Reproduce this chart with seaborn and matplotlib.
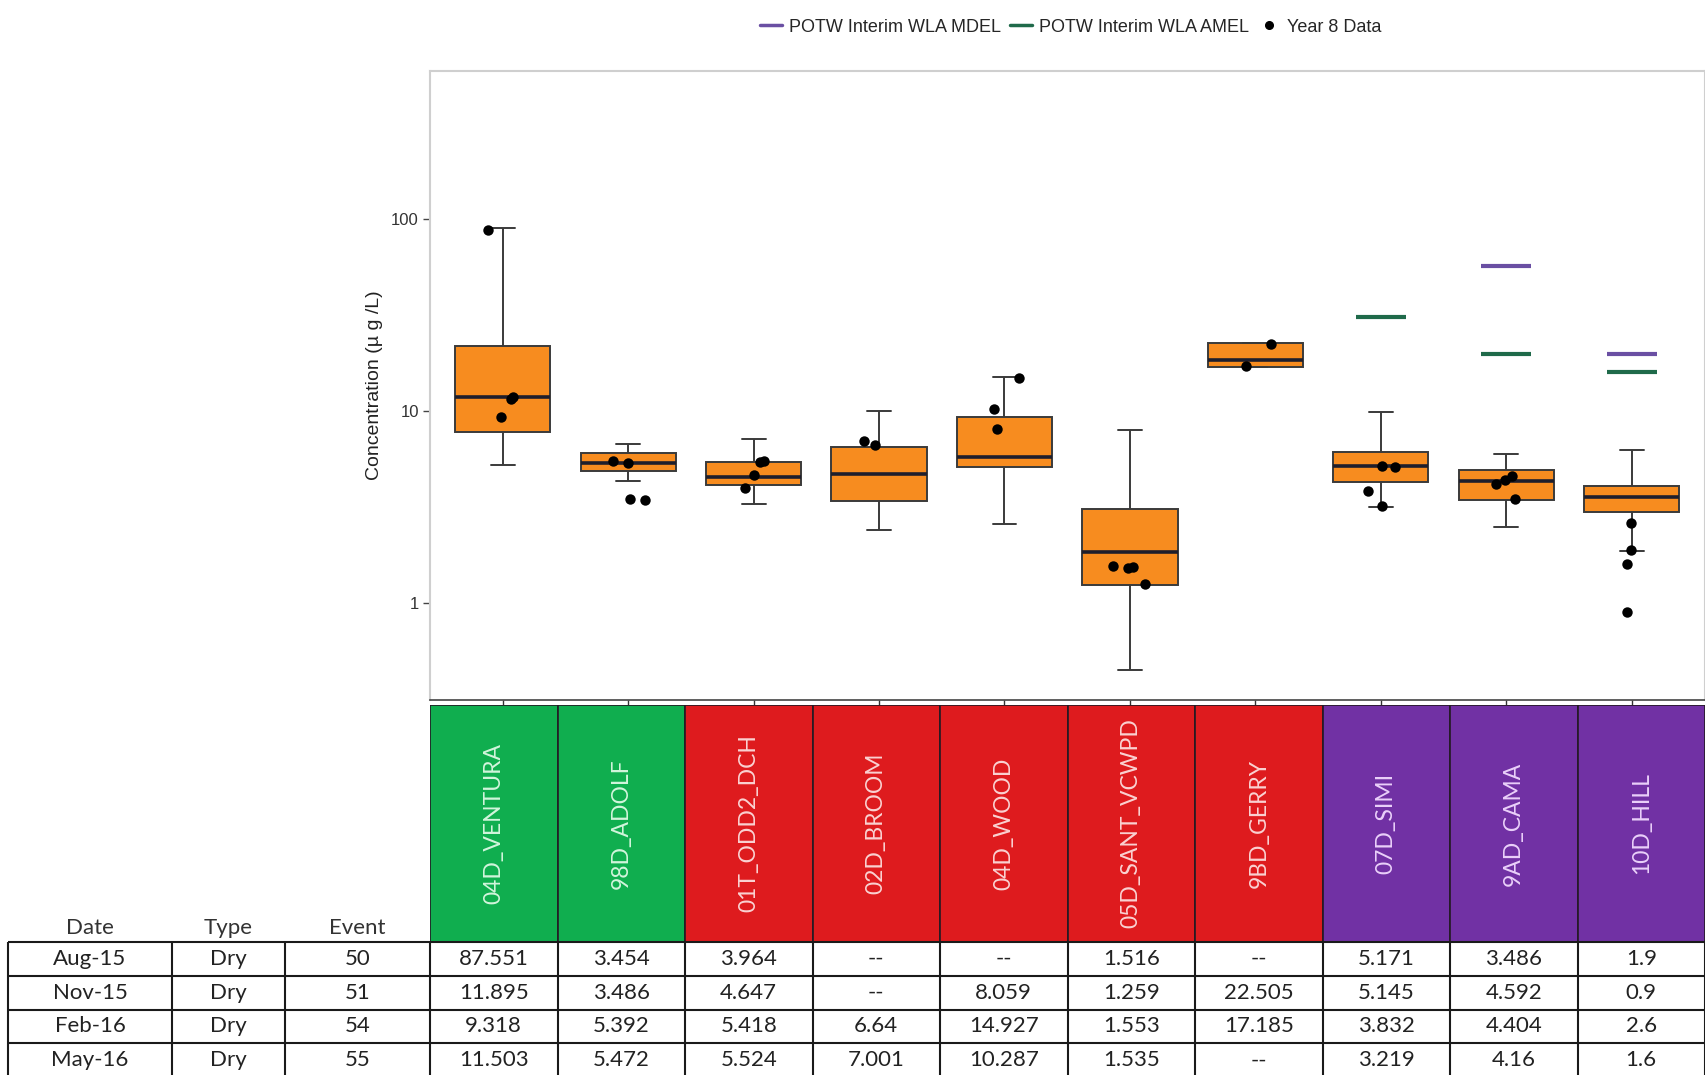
import numpy as np
import pandas as pd
import matplotlib
matplotlib.use("Agg")
import matplotlib.pyplot as plt
from matplotlib.lines import Line2D
from matplotlib.ticker import NullLocator
import seaborn as sns

# Sites in plotting order and the group each one belongs to
sites = ["04D_VENTURA", "98D_ADOLF", "01T_ODD2_DCH", "02D_BROOM", "04D_WOOD",
         "05D_SANT_VCWPD", "9BD_GERRY", "07D_SIMI", "9AD_CAMA", "10D_HILL"]
site_group = ["green", "green", "red", "red", "red", "red", "red",
              "purple", "purple", "purple"]

# Historical box summaries (ug/L)
box_lo = [5.25, 4.34, 3.29, 2.39, 2.59, 0.45, 16.9, 3.18, 2.49, 1.88]
box_q1 = [7.8, 4.89, 4.13, 3.42, 5.11, 1.24, 16.9, 4.27, 3.45, 3.0]
box_med = [11.8, 5.40, 4.53, 4.70, 5.80, 1.84, 18.5, 5.19, 4.33, 3.59]
box_q3 = [21.9, 6.04, 5.44, 6.54, 9.37, 3.09, 22.6, 6.09, 4.95, 4.08]
box_hi = [90.0, 6.76, 7.2, 10.07, 15.0, 8.0, 22.6, 9.88, 5.99, 6.24]

# POTW interim WLA limits (only the POTW sites have them)
nan = np.nan
wla_mdel = [nan, nan, nan, nan, nan, nan, nan, nan, 57.2, 19.9]
wla_amel = [nan, nan, nan, nan, nan, nan, nan, 30.9, 19.9, 15.9]

# Year 8 monitoring events (None = not sampled)
dates = ["Aug-15", "Nov-15", "Feb-16", "May-16"]
types = ["Dry", "Dry", "Dry", "Dry"]
events = [50, 51, 54, 55]
row_aug15 = [87.551, 3.454, 3.964, None, None, 1.516, None, 5.171, 3.486, 1.9]
row_nov15 = [11.895, 3.486, 4.647, None, 8.059, 1.259, 22.505, 5.145, 4.592, 0.9]
row_feb16 = [9.318, 5.392, 5.418, 6.64, 14.927, 1.553, 17.185, 3.832, 4.404, 2.6]
row_may16 = [11.503, 5.472, 5.524, 7.001, 10.287, 1.535, None, 3.219, 4.16, 1.6]
year8_rows = [row_aug15, row_nov15, row_feb16, row_may16]

group_fill = {"green": "#10ae4f", "red": "#de1b1e", "purple": "#7131a4"}
group_text = {"green": "#d2f5dc", "red": "#fad2d2", "purple": "#ead0fa"}
mdel_color = "#6a4fa3"
amel_color = "#1f6a4a"

W, H = 1705, 1075

sns.set_style("white")
plt.rcParams["font.family"] = ["Liberation Sans", "DejaVu Sans"]

fig = plt.figure(figsize=(W / 100, H / 100), dpi=100)

# ---------- main box plot ----------
ax = fig.add_axes([430 / W, 1 - 700 / H, 1275 / W, (700 - 71) / H])

box_df = pd.DataFrame({
    "site": np.repeat(sites, 5),
    "value": np.column_stack([box_lo, box_q1, box_med, box_q3, box_hi]).ravel(),
})
pts = []
for row in year8_rows:
    for s, v in zip(sites, row):
        if v is not None:
            pts.append((s, v))
pts_df = pd.DataFrame(pts, columns=["site", "value"])

sns.boxplot(data=box_df, x="site", y="value", order=sites, whis=(0, 100),
            width=0.76, showfliers=False, color="#f78c1f", saturation=1,
            linecolor="#3a3a3a", linewidth=1.4, log_scale=True,
            medianprops=dict(color="#1e1e2c", linewidth=2.6),
            capwidths=0.19, ax=ax)

np.random.seed(7)
sns.stripplot(data=pts_df, x="site", y="value", order=sites, color="black",
              size=7.5, jitter=0.14, ax=ax, zorder=5)

xpos = np.arange(len(sites))
ax.hlines(wla_mdel, xpos - 0.2, xpos + 0.2, colors=mdel_color, linewidth=3, zorder=4)
ax.hlines(wla_amel, xpos - 0.2, xpos + 0.2, colors=amel_color, linewidth=3, zorder=4)

ax.set_xlim(-0.58, 9.585)
ax.set_ylim(0.313, 591)
ax.set_yticks([1, 10, 100])
ax.set_yticklabels(["1", "10", "100"])
ax.yaxis.set_minor_locator(NullLocator())
ax.set_xticks(xpos)
ax.set_xticklabels([])
ax.set_xlabel("")
ax.set_ylabel("Concentration (\u00b5 g /L)", fontsize=14, labelpad=6, color="#222")
ax.tick_params(axis="y", left=True, length=5, width=1, color="#444",
               labelsize=12, labelcolor="#333", pad=3)
ax.tick_params(axis="x", bottom=True, length=5, width=1, color="#333")
for side in ["top", "left", "right"]:
    ax.spines[side].set_color("#cfcfcf")
    ax.spines[side].set_linewidth(1.5)
ax.spines["bottom"].set_color("#444")
ax.spines["bottom"].set_linewidth(1.2)

handles = [
    Line2D([], [], color=mdel_color, lw=2.5),
    Line2D([], [], color=amel_color, lw=2.5),
    Line2D([], [], color="black", marker="o", ls="", markersize=5.5),
]
labels = ["POTW Interim WLA MDEL", "POTW Interim WLA AMEL", "Year 8 Data"]
fig.legend(handles, labels, loc="center", bbox_to_anchor=(1071 / W, 1 - 27 / H),
           ncol=3, frameon=False, fontsize=13, handlelength=1.2,
           columnspacing=0.5, handletextpad=0.4)

# ---------- coloured site header ----------
ax_head = fig.add_axes([430 / W, 1 - 942 / H, 1275 / W, (942 - 705) / H])
ax_head.bar(xpos, 1, width=1, color=[group_fill[g] for g in site_group],
            edgecolor="#241a24", linewidth=1.2)
for i, (s, g) in enumerate(zip(sites, site_group)):
    ax_head.text(i, 0.5, s, rotation=90, ha="center", va="center",
                 fontsize=16.5, family="Lato", color=group_text[g])
ax_head.set_xlim(-0.5, len(sites) - 0.5)
ax_head.set_ylim(0, 1)
ax_head.axis("off")

# ---------- data table (pixel units) ----------
ax_tab = fig.add_axes([0, 0, 1, (H - 900) / H])
ax_tab.set_xlim(0, W)
ax_tab.set_ylim(H, 900)
ax_tab.axis("off")

col_edges = [8, 172, 285, 430] + [430 + 127.5 * k for k in range(1, len(sites) + 1)]
row_top = 942
row_h = 33.8
row_edges = [row_top + row_h * k for k in range(len(dates) + 1)]

ax_tab.hlines(row_edges, col_edges[0], col_edges[-1], colors="#1a1a1a", linewidth=1.5)
ax_tab.vlines(col_edges, row_top, row_edges[-1], colors="#1a1a1a", linewidth=1.5)

for name, c0, c1 in zip(["Date", "Type", "Event"], col_edges[:3], col_edges[1:4]):
    ax_tab.text((c0 + c1) / 2, 928, name, ha="center", va="center",
                fontsize=16, family="Lato", color="#333")

for r, (d, t, e, row) in enumerate(zip(dates, types, events, year8_rows)):
    cells = [d, t, str(e)] + ["--" if v is None else f"{v:g}" for v in row]
    yc = row_top + row_h * (r + 0.5)
    for c, txt in enumerate(cells):
        xc = (col_edges[c] + col_edges[c + 1]) / 2
        ax_tab.text(xc, yc, txt, ha="center", va="center", fontsize=16,
                    family="Lato", color="#222")

fig.savefig("out.png", dpi=100)
